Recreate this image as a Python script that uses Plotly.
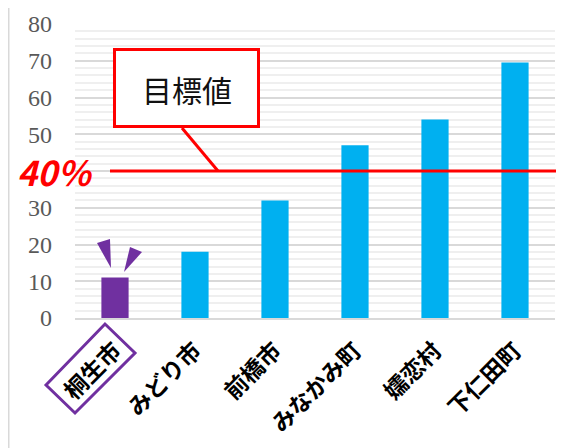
import plotly.graph_objects as go

# ---- data ----
categories = ["桐生市", "みどり市", "前橋市", "みなかみ町", "嬬恋村", "下仁田町"]
values = [11, 18, 32, 47, 54, 69.5]
highlight = "桐生市"
target = 40
target_label = "40％"
callout_text = "目標値"
y_ticks = [0, 10, 20, 30, 40, 50, 60, 70, 80]
# the "40" tick label is covered by the target label in the reference
y_tick_text = ["" if v == target else str(v) for v in y_ticks]

PURPLE = "#7030A0"
BLUE = "#00B0F0"
RED = "#FF0000"

OFF = 8  # page body margin
W, H = 587 - OFF, 448 - OFF
# plot area in screen pixels: x 75..555, y 24..318
ML, MT = 75 - OFF, 24 - OFF
MR = W - (555 - OFF)
MB = H - (318 - OFF)
PW, PH = W - ML - MR, H - MT - MB


def px(X):
    return (X - OFF - ML) / PW


def py(Y):
    return (H - MB - (Y - OFF)) / PH


colors = [PURPLE if c == highlight else BLUE for c in categories]

fig = go.Figure()
fig.add_trace(go.Bar(x=categories, y=values, marker=dict(color=colors, line=dict(width=0)),
                     width=0.34, hoverinfo="x+y"))

shapes = []
shapes.append(dict(type="line", xref="paper", yref="y", x0=px(110), x1=px(556),
                   y0=target, y1=target, line=dict(color=RED, width=3)))
shapes.append(dict(type="rect", xref="paper", yref="paper", x0=px(114.5), x1=px(258.5),
                   y0=py(126.5), y1=py(49.5), line=dict(color=RED, width=3), fillcolor="white"))
shapes.append(dict(type="line", xref="paper", yref="paper", x0=px(182), y0=py(128),
                   x1=px(218), y1=target / 80, line=dict(color=RED, width=3)))


def poly(pts):
    return "M " + " L ".join(f"{px(a):.4f},{py(b):.4f}" for a, b in pts) + " Z"


shapes.append(dict(type="path", xref="paper", yref="paper",
                   path=poly([(97, 243), (110, 239), (111, 268)]),
                   fillcolor=PURPLE, line=dict(width=0)))
shapes.append(dict(type="path", xref="paper", yref="paper",
                   path=poly([(130, 247), (142, 252), (124, 272)]),
                   fillcolor=PURPLE, line=dict(width=0)))
shapes.append(dict(type="path", xref="paper", yref="paper",
                   path=poly([(46, 385), (105, 324), (135, 353), (75, 413)]),
                   line=dict(color=PURPLE, width=3)))
shapes.append(dict(type="line", xref="paper", yref="paper", x0=px(8.5), x1=px(8.5),
                   y0=py(0), y1=py(448), line=dict(color="#D9D9D9", width=2)))
shapes.append(dict(type="line", xref="paper", yref="paper", x0=px(585.5), x1=px(585.5),
                   y0=py(0), y1=py(448), line=dict(color="#D9D9D9", width=3)))

annotations = [
    dict(xref="paper", yref="paper", x=px(187), y=py(89), text=callout_text, showarrow=False,
         font=dict(family="Noto Sans CJK JP", size=30, color="#111111"), xanchor="center", yanchor="middle"),
    dict(xref="paper", yref="y", x=px(55), y=target, text=f"<b><i>{target_label}</i></b>", showarrow=False,
         font=dict(family="Noto Sans CJK JP", size=34, color=RED), xanchor="center", yanchor="middle"),
]

fig.update_layout(
    width=W, height=H,
    margin=dict(l=ML, r=MR, t=MT, b=MB, pad=0, autoexpand=False),
    paper_bgcolor="white", plot_bgcolor="white",
    showlegend=False,
    shapes=shapes,
    annotations=annotations,
    xaxis=dict(tickangle=-45, showgrid=False, showline=True, linecolor="#D9D9D9", linewidth=2,
               ticks="", tickfont=dict(family="Noto Sans CJK JP", size=23, color="black"),
               tickprefix="<b>", ticksuffix="</b>", automargin=False, ticklabelstandoff=8),
    yaxis=dict(range=[0, 80], tickvals=y_ticks, ticktext=y_tick_text, showgrid=True,
               gridcolor="#D9D9D9", gridwidth=1.5,
               zeroline=False, showline=False, ticks="",
               tickfont=dict(family="Liberation Serif", size=24, color="#595959"),
               ticklabelstandoff=22, automargin=False,
               minor=dict(dtick=2, showgrid=True, gridcolor="#EFEFEF", gridwidth=1.5)),
)

fig.write_html("out.html")
